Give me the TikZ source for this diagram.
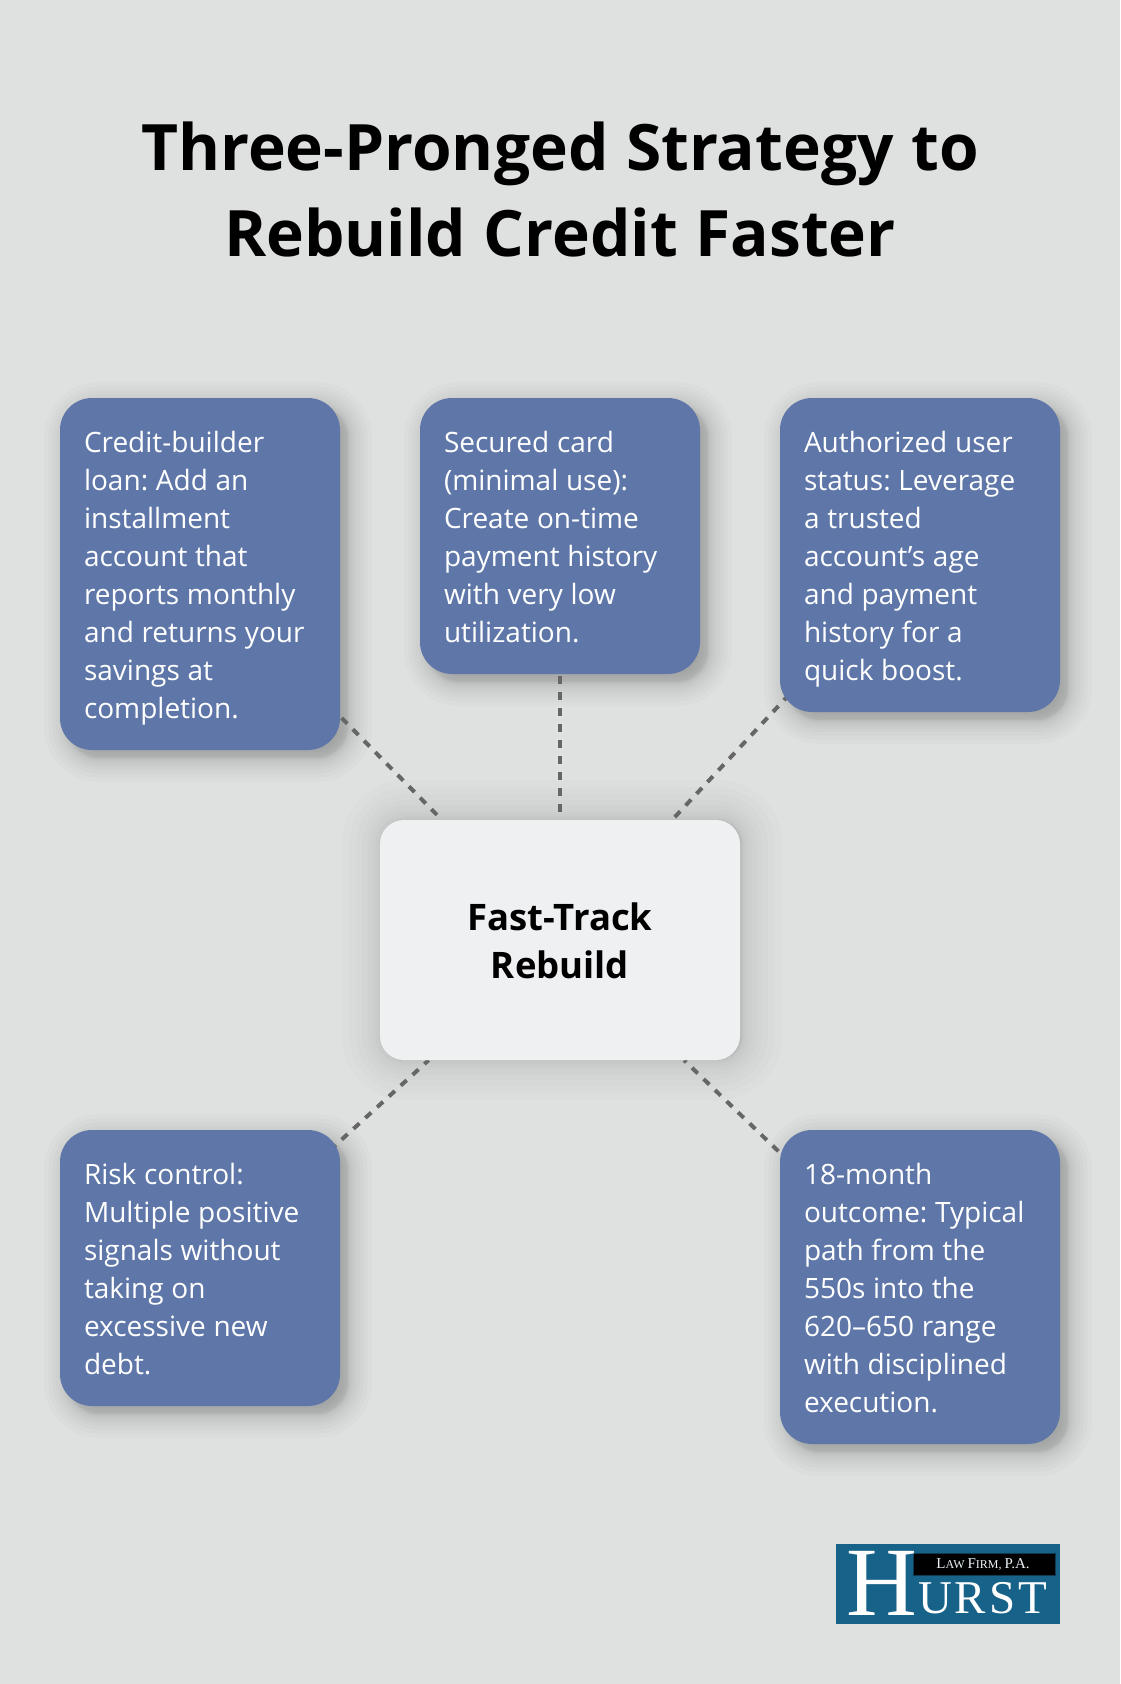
\documentclass[tikz,border=0pt]{standalone}
\usepackage{fontspec}
\setmainfont{Open Sans}
\newfontfamily\logofont{Liberation Serif}
\newfontfamily\logowide[LetterSpace=6]{Liberation Serif}
\usetikzlibrary{calc}
\pgfdeclarelayer{bglayer}
\pgfdeclarelayer{shadowlayer}
\pgfdeclarelayer{linelayer}
\pgfsetlayers{bglayer,shadowlayer,linelayer,main}
\definecolor{bgc}{HTML}{DFE1E1}
\definecolor{boxc}{HTML}{5E77A8}
\definecolor{hubc}{HTML}{EFF0F2}
\definecolor{linkc}{HTML}{666666}
\definecolor{logoc}{HTML}{176289}
\newcommand{\cardstrut}{\rule[-8pt]{0pt}{38pt}}
\newcommand{\hubstrut}{\rule[-9.3pt]{0pt}{48pt}}
\newcommand{\tightwords}{\frenchspacing\setlength{\spaceskip}{0.275em}}
\tikzset{
  card/.style={rectangle,rounded corners=32pt,fill=boxc,text=white,draw=none,inner sep=0pt,
    minimum width=280pt,text width=232pt,align=left,font=\fontsize{28}{38}\selectfont,
    execute at begin node={\tightwords\cardstrut},execute at end node=\cardstrut},
  hub/.style={rectangle,rounded corners=24pt,fill=hubc,text=black,draw=none,inner sep=0pt,
    minimum width=360pt,minimum height=240pt,text width=300pt,align=center,font=\fontsize{36.5}{48}\selectfont\bfseries,
    execute at begin node=\hubstrut,execute at end node=\hubstrut},
  link/.style={linkc,line width=4pt,dash pattern=on 8pt off 8pt,dash phase=14pt,shorten <=-16pt},
  titletext/.style={inner sep=0pt,text=black,font=\fontsize{64}{86}\selectfont\bfseries,align=center,text width=1000pt,
    execute at begin node=\tightwords},
}
% name, dx, dy, half spread, radius, opacity per layer
\newcommand{\softshadow}[6]{%
  \begin{pgfonlayer}{shadowlayer}
  \foreach \t in {-10,...,10}{
    \pgfmathsetmacro{\g}{#4*(\t/10)*abs(\t/10)}
    \pgfmathsetmacro{\rr}{max(#5+\g,1)}
    \fill[black,fill opacity=#6,rounded corners=\rr pt]
      ($(#1.north west)+(#2-\g,#3-\g)$) rectangle ($(#1.south east)+(#2+\g,#3+\g)$);
  }
  \end{pgfonlayer}
}
\begin{document}
\begin{tikzpicture}[x=1pt,y=-1pt]
\useasboundingbox (0,0) rectangle (1120,1684);
\begin{pgfonlayer}{bglayer}
\fill[bgc] (0,0) rectangle (1120,1684);
\end{pgfonlayer}
\node[titletext] (title) at (560,189) {Three-Pronged Strategy to\\Rebuild Credit Faster};
\node[hub] (hub) at (560,940) {Fast-Track\\Rebuild};
\node[card,minimum height=352pt] (a) at (200,574) {Credit-builder\\loan: Add an\\installment\\account that\\reports monthly\\and returns your\\savings at\\completion.};
\node[card,minimum height=276pt] (b) at (560,536) {Secured card\\(minimal use):\\Create on-time\\payment history\\with very low\\utilization.};
\node[card,minimum height=314pt] (c) at (920,555) {Authorized user\\status: Leverage\\a trusted\\account’s age\\and payment\\history for a\\quick boost.};
\node[card,minimum height=276pt] (d) at (200,1268) {Risk control:\\Multiple positive\\signals without\\taking on\\excessive new\\debt.};
\node[card,minimum height=314pt] (e) at (920,1287) {18-month\\outcome: Typical\\path from the\\550s into the\\620–650 range\\with disciplined\\execution.};
\softshadow{a}{8}{8}{24}{32}{0.016}
\softshadow{b}{8}{8}{24}{32}{0.016}
\softshadow{c}{8}{8}{24}{32}{0.016}
\softshadow{d}{8}{8}{24}{32}{0.016}
\softshadow{e}{8}{8}{24}{32}{0.016}
\softshadow{hub}{2}{0}{40}{24}{0.012}
\begin{pgfonlayer}{linelayer}
\draw[link] (a) -- (hub);
\draw[link] (b) -- (hub);
\draw[link] (c) -- (hub);
\draw[link] (d) -- (hub);
\draw[link] (e) -- (hub);
\end{pgfonlayer}
% logo
\node[rectangle,fill=logoc,minimum width=224pt,minimum height=80pt,inner sep=0pt] (logo) at (948,1584) {};
\node[rectangle,fill=black,draw=logoc!60!black,line width=0.5pt,minimum width=142pt,minimum height=22pt,inner sep=0pt] (logobar) at (984,1564) {};
\node[inner sep=0pt,text=white!92!logoc,font=\logofont\fontsize{15}{15}\selectfont] (logolaw) at (983,1564) {L\fontsize{12}{15}\selectfont AW \fontsize{15}{15}\selectfont F\fontsize{12}{15}\selectfont IRM, \fontsize{15}{15}\selectfont P.A.};
\node[anchor=base west,inner sep=0pt,text=white,font=\logofont\fontsize{98}{98}\selectfont] (logoh) at (846,1615) {H};
\node[anchor=base west,inner sep=0pt,text=white,font=\logowide\fontsize{47}{47}\selectfont] (logourst) at (918,1613) {URST};
\end{tikzpicture}
\end{document}
